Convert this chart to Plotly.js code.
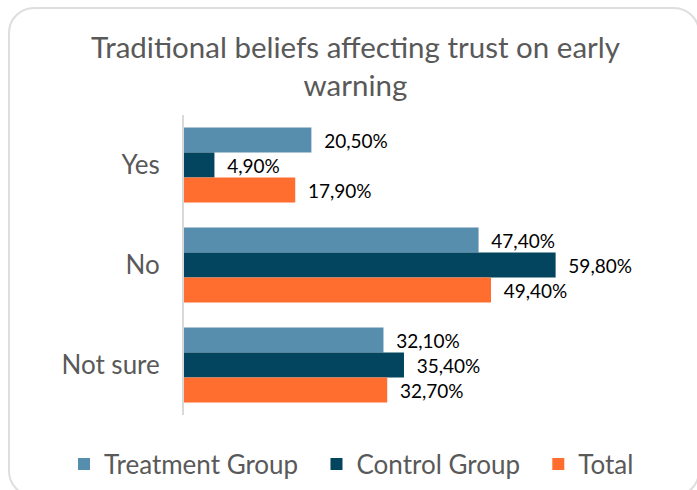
<!DOCTYPE html>
<html>
<head>
<meta charset="utf-8">
<script src="https://cdn.plot.ly/plotly-3.0.1.min.js"></script>
<style>
html,body{margin:0;padding:0;width:697px;height:490px;overflow:hidden;background:#fff;}
#frame{position:absolute;left:8px;top:7px;width:692px;height:490px;border:2px solid #dedede;border-radius:26px;box-sizing:border-box;}
#chart{position:absolute;left:0;top:0;width:697px;height:490px;}
</style>
</head>
<body>
<div id="frame"></div>
<div id="chart"></div>
<script>
const categories = ["Yes", "No", "Not sure"];
const treatment = [20.5, 47.4, 32.1];
const control = [4.9, 59.8, 35.4];
const total = [17.9, 49.4, 32.7];
const seriesNames = ["Treatment Group", "Control Group", "Total"];
const colors = ["#588EAD", "#03445F", "#FF6D2F"];

const fmt = v => "\u00a0\u00a0" + v.toFixed(2).replace(".", ",") + "%";
const FONT = "Lato, 'Open Sans', sans-serif";
const PAD = "\u00a0\u00a0";

const data = [treatment, control, total].map((vals, i) => ({
  type: "bar",
  orientation: "h",
  name: seriesNames[i] + (i < 2 ? PAD : ""),
  y: categories,
  x: vals,
  marker: {color: colors[i]},
  text: vals.map(fmt),
  textposition: "outside",
  textfont: {family: FONT, size: 19, color: "#000"},
  cliponaxis: false,
  hoverinfo: "none"
}));

const layout = {
  width: 697, height: 490,
  paper_bgcolor: "rgba(0,0,0,0)",
  plot_bgcolor: "rgba(0,0,0,0)",
  font: {family: FONT, color: "#595959"},
  margin: {l: 10, r: 10, t: 115, b: 75, pad: 0},
  barmode: "group",
  bargap: 0.25,
  bargroupgap: 0,
  showlegend: true,
  title: {
    text: "Traditional beliefs affecting trust on early<br>warning",
    font: {family: FONT, size: 29.5, color: "#595959"},
    xref: "container", x: 0.51, xanchor: "center",
    yref: "container", y: 0.882, yanchor: "middle"
  },
  xaxis: {
    domain: [174 / 677, 609 / 677],
    range: [0, 70],
    showgrid: false, zeroline: false, showticklabels: false,
    showline: false, ticks: ""
  },
  yaxis: {
    autorange: "reversed",
    showgrid: false, zeroline: false,
    showline: true, linecolor: "#d9d9d9", linewidth: 2,
    ticks: "", ticklabelstandoff: 17,
    tickfont: {family: FONT, size: 26, color: "#595959"}
  },
  legend: {
    orientation: "h",
    xref: "container", x: 64 / 697, xanchor: "left",
    yref: "container", y: 0.053, yanchor: "middle",
    font: {family: FONT, size: 26, color: "#595959"},
    itemwidth: 30,
    traceorder: "normal"
  }
};

Plotly.newPlot("chart", data, layout, {displayModeBar: false, staticPlot: true});
</script>
</body>
</html>
